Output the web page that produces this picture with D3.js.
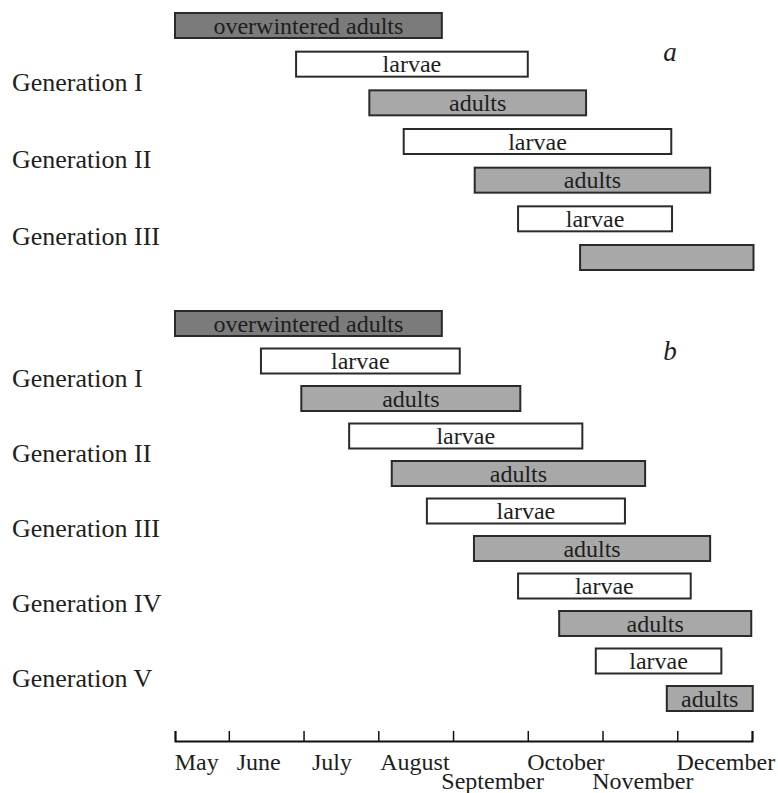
<!DOCTYPE html>
<html>
<head>
<meta charset="utf-8">
<script src="https://cdn.jsdelivr.net/npm/d3@7"></script>
<style>
  body { margin: 0; background: #fff; }
  svg text { font-family: "Liberation Serif", "DejaVu Serif", serif; fill: #1e1e1e; }
</style>
</head>
<body>
<div id="chart"></div>
<script>
// chart size
var chart_width = 778;
var chart_height = 793;

// months, counted from 1 May (0 = May 1, 1 = June 1 ...)
var months = ['May', 'June', 'July', 'August', 'September', 'October', 'November', 'December'];
// where each month name sits on the time scale (as printed in the figure)
var month_label_at = [0.57, 1.40, 2.38, 3.49, 4.53, 5.51, 6.54, 7.65];
var tick_values = [0.28, 1, 2, 3, 4, 5, 6, 7, 8];
var axis_start = 0.28;
var axis_end = 8;

// panel a : start / end (months), type, label
var a_start = [0.28, 1.90, 2.88, 3.34, 4.29, 4.87, 5.70];
var a_end   = [3.85, 5.00, 5.78, 6.92, 7.44, 6.93, 8.02];
var a_type  = ['winter', 'larvae', 'adults', 'larvae', 'adults', 'larvae', 'adults'];
var a_label = ['overwintered adults', 'larvae', 'adults', 'larvae', 'adults', 'larvae', ''];
var a_generations = ['Generation I', 'Generation II', 'Generation III'];

// panel b
var b_start = [0.28, 1.43, 1.97, 2.61, 3.18, 3.65, 4.28, 4.87, 5.42, 5.91, 6.86];
var b_end   = [3.85, 4.09, 4.90, 5.73, 6.57, 6.30, 7.44, 7.18, 7.99, 7.59, 8.01];
var b_type  = ['winter', 'larvae', 'adults', 'larvae', 'adults', 'larvae', 'adults', 'larvae', 'adults', 'larvae', 'adults'];
var b_label = ['overwintered adults', 'larvae', 'adults', 'larvae', 'adults', 'larvae', 'adults', 'larvae', 'adults', 'larvae', 'adults'];
var b_generations = ['Generation I', 'Generation II', 'Generation III', 'Generation IV', 'Generation V'];

var fill = { winter: '#7b7b7b', larvae: '#ffffff', adults: '#a8a8a8' };
var serif = '"Liberation Serif", "DejaVu Serif", serif';

var x = d3.scaleLinear()
          .domain([axis_start, axis_end])
          .range([175, 752]);

var bar_height = 25;

var svg = d3.select('#chart')
            .append('svg')
            .attr('width', chart_width)
            .attr('height', chart_height)
            .attr('font-family', serif);

function drawPanel(starts, ends, types, labels, gens, top, bottom, letter, letter_y) {
    var rows = d3.range(starts.length);
    var y = d3.scalePoint()
              .domain(rows)
              .range([top, bottom]);

    var g = svg.append('g');

    g.selectAll('rect')
        .data(rows)
        .enter()
        .append('rect')
        .attr('x', function(i){ return x(starts[i]); })
        .attr('y', function(i){ return y(i); })
        .attr('width', function(i){ return x(ends[i]) - x(starts[i]); })
        .attr('height', bar_height)
        .attr('fill', function(i){ return fill[types[i]]; })
        .attr('stroke', '#2a2a2a')
        .attr('stroke-width', 2);

    g.selectAll('text.bar-label')
        .data(rows)
        .enter()
        .append('text')
        .attr('class', 'bar-label')
        .attr('x', function(i){ return (x(starts[i]) + x(ends[i])) / 2; })
        .attr('y', function(i){ return y(i) + bar_height / 2 + 8; })
        .attr('text-anchor', 'middle')
        .attr('font-family', serif)
        .attr('font-size', '24px')
        .text(function(i){ return labels[i]; });

    // generation names sit between the larvae row and the adults row
    g.selectAll('text.gen')
        .data(gens)
        .enter()
        .append('text')
        .attr('class', 'gen')
        .attr('x', 12)
        .attr('y', function(d, k){
            return (y(2 * k + 1) + y(2 * k + 2)) / 2 + bar_height / 2 + 7;
        })
        .attr('font-family', serif)
        .attr('font-size', '26px')
        .text(function(d){ return d; });

    g.append('text')
        .attr('x', 670)
        .attr('y', letter_y)
        .attr('text-anchor', 'middle')
        .attr('font-family', serif)
        .attr('font-size', '27px')
        .attr('font-style', 'italic')
        .text(letter);
}

drawPanel(a_start, a_end, a_type, a_label, a_generations, 13, 245, 'a', 61);
drawPanel(b_start, b_end, b_type, b_label, b_generations, 311, 686, 'b', 360);

// time axis, ticks pointing up
var axis = d3.axisTop(x)
             .tickValues(tick_values)
             .tickSize(10)
             .tickSizeOuter(10)
             .tickFormat('');

var ax = svg.append('g')
            .attr('transform', 'translate(0,741)')
            .call(axis);
ax.select('path.domain')
  .attr('stroke', '#111')
  .attr('stroke-width', 2);
ax.selectAll('.tick line')
  .attr('stroke', '#111')
  .attr('stroke-width', 1.5);

// month names, September and November staggered lower
svg.selectAll('text.month')
    .data(months)
    .enter()
    .append('text')
    .attr('class', 'month')
    .attr('x', function(d, i){ return x(month_label_at[i]); })
    .attr('y', function(d){
        return (d === 'September' || d === 'November') ? 789 : 770;
    })
    .attr('text-anchor', 'middle')
    .attr('font-family', serif)
    .attr('font-size', '24px')
    .text(function(d){ return d; });
</script>
</body>
</html>
